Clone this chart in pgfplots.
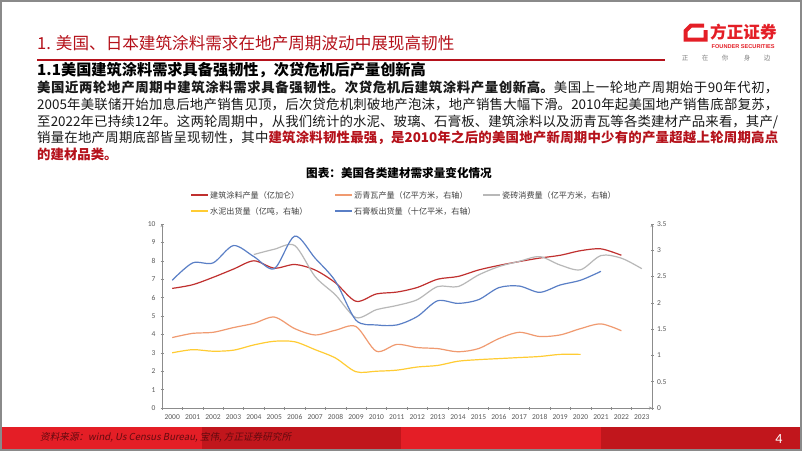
\documentclass[border=0pt]{standalone}
\usepackage{fontspec}
\usepackage{pgfplots}
\pgfplotsset{compat=1.18}
\setmainfont{Noto Sans CJK SC}
\newfontfamily\carlito{Carlito}
\newfontfamily\lib{Liberation Sans}
\newfontfamily\footfont{Noto Sans CJK SC}[FakeSlant=0.2]
\XeTeXlinebreaklocale "zh"
\XeTeXlinebreakskip=0pt plus 1pt

\definecolor{hred}{HTML}{B5121B}
\definecolor{fbright}{HTML}{E41E26}
\definecolor{fdark}{HTML}{C1161C}
\definecolor{framegray}{HTML}{8A8A8A}
\definecolor{axisgray}{HTML}{8C8C8C}
\definecolor{labgray}{HTML}{595959}
\definecolor{sred}{HTML}{C0302F}
\definecolor{sorange}{HTML}{F09A70}
\definecolor{sgray}{HTML}{B8B8B8}
\definecolor{syellow}{HTML}{FFCC33}
\definecolor{sblue}{HTML}{5A7FC6}

\pgfplotsset{
  slide axis/.style={
    at={(162pt,-408pt)}, anchor=south west,
    width=490pt, height=184pt, scale only axis,
    xmin=-0.5, xmax=23.5, ymin=0,
    tick align=outside, major tick length=3pt, minor tick length=3pt,
    axis line style={draw=axisgray, -},
    tick style={draw=axisgray, line width=0.5pt},
    ticklabel style={font=\carlito\fontsize{7.5}{8}\selectfont, text=labgray},
    /pgf/number format/assume math mode=true,
    every axis plot/.append style={line width=1.2pt, smooth, tension=0.5, no markers},
  }
}

\begin{document}
\begin{tikzpicture}
\path[use as bounding box, fill=white] (0,0) rectangle (802pt,-451pt);

% footer bands
\fill[fbright] (0,-427pt) rectangle (202pt,-450pt);
\fill[fdark] (202pt,-427pt) rectangle (401pt,-450pt);
\fill[fbright] (401pt,-427pt) rectangle (601pt,-450pt);
\fill[fdark] (601pt,-427pt) rectangle (802pt,-450pt);
\node[anchor=west, inner sep=0, text=hred!55!black] at (40pt,-437.5pt)
  {\footfont\fontsize{9.6}{10}\selectfont 资料来源：wind, Us Census Bureau, 宝伟, 方正证券研究所};
\node[inner sep=0, text=white] at (779pt,-439pt) {\carlito\fontsize{14}{15}\selectfont 4};

% frame
\draw[framegray, line width=2pt] (1pt,-1pt) rectangle (801pt,-450pt);

% title
\node[anchor=base west, inner sep=0, text=hred] at (37pt,-49.3pt)
  {\fontsize{16.6}{18}\selectfont 1. 美国、日本建筑涂料需求在地产周期波动中展现高韧性};
\draw[hred, line width=1.4pt] (37pt,-60pt) -- (665pt,-60pt);

% logo
\draw[fbright, line width=4pt, line join=miter] (704pt,-25.5pt) -- (691pt,-25.5pt) -- (685.5pt,-31pt)
  -- (685.5pt,-39.5pt) -- (705.5pt,-39.5pt) -- (705.5pt,-30pt);
\node[anchor=west, inner sep=0, text=fbright] at (710pt,-32pt) {\bfseries\fontsize{16.6}{18}\selectfont 方正证券};
\node[anchor=west, inner sep=0, text=fbright] at (711.5pt,-46.5pt) {\lib\bfseries\fontsize{5.6}{6}\selectfont FOUNDER SECURITIES};
\foreach \c/\xx in {正/685,在/705,你/725,身/747,边/767}
  \node[inner sep=0, text=gray] at (\xx pt,-58pt) {\fontsize{6.5}{7}\selectfont \c};

% heading and paragraph
\node[anchor=base west, inner sep=0] at (37pt,-75.8pt)
  {\bfseries\fontsize{15.2}{17}\selectfont 1.1美国建筑涂料需求具备强韧性，次贷危机后产量创新高};
\node[anchor=base west, inner sep=0, text=black!90] at (37pt,-92.5pt) {\parbox[t]{741pt}{\fontsize{13.4}{16.8}\selectfont
{\bfseries 美国近两轮地产周期中建筑涂料需求具备强韧性。次贷危机后建筑涂料产量创新高。}美国上一轮地产周期始于90年代初，\linebreak
2005年美联储开始加息后地产销售见顶，后次贷危机刺破地产泡沫，地产销售大幅下滑。2010年起美国地产销售底部复苏，\linebreak
至2022年已持续12年。这两轮周期中，从我们统计的水泥、玻璃、石膏板、建筑涂料以及沥青瓦等各类建材产品来看，其产/\linebreak
销量在地产周期底部皆呈现韧性，其中{\color{hred}\bfseries 建筑涂料韧性最强，是2010年之后的美国地产新周期中少有的产量超越上轮周期高点}\linebreak
{\color{hred}\bfseries 的建材品类。}}};

% chart title
\node[inner sep=0] at (399pt,-173pt) {\bfseries\fontsize{11.6}{12}\selectfont 图表：美国各类建材需求量变化情况};

% legend
\begin{scope}[every node/.style={anchor=west, inner sep=0, text=black!75, font=\fontsize{8.1}{9}\selectfont}]
\draw[sred, line width=1.5pt] (191pt,-195pt) -- (208pt,-195pt);
\node at (210pt,-195pt) {建筑涂料产量（亿加仑）};
\draw[sorange, line width=1.5pt] (335pt,-195pt) -- (352pt,-195pt);
\node at (354pt,-195pt) {沥青瓦产量（亿平方米，右轴）};
\draw[sgray, line width=1.5pt] (483pt,-195pt) -- (500pt,-195pt);
\node at (502pt,-195pt) {瓷砖消费量（亿平方米，右轴）};
\draw[syellow, line width=1.5pt] (191pt,-211pt) -- (208pt,-211pt);
\node at (210pt,-211pt) {水泥出货量（亿吨，右轴）};
\draw[sblue, line width=1.5pt] (335pt,-211pt) -- (352pt,-211pt);
\node at (354pt,-211pt) {石膏板出货量（十亿平米，右轴）};
\end{scope}

% left axis
\begin{axis}[slide axis,
  ymax=10, ytick={0,1,...,10},
  axis x line=bottom, axis y line=left,
  xtick={0,1,...,23},
  xticklabels={2000,2001,2002,2003,2004,2005,2006,2007,2008,2009,2010,2011,2012,2013,2014,2015,2016,2017,2018,2019,2020,2021,2022,2023},
  major x tick style={draw=none},
  minor xtick={-0.5,0.5,...,23.5},
  xticklabel style={yshift=-1.5pt},
  yticklabel style={xshift=-1.5pt},
]
\addplot[sred] coordinates {
 (0,6.5) (1,6.7) (2,7.1) (3,7.55) (4,8.0) (5,7.6) (6,7.8) (7,7.5) (8,6.8) (9,5.8)
 (10,6.2) (11,6.3) (12,6.55) (13,7.0) (14,7.15) (15,7.5) (16,7.75) (17,7.96) (18,8.15)
 (19,8.3) (20,8.55) (21,8.65) (22,8.3)
};
\end{axis}

% right axis
\begin{axis}[slide axis,
  ymax=3.5, ytick={0,0.5,...,3.5},
  axis x line=none, axis y line=right,
  xtick=\empty,
]
\addplot[sorange] coordinates {
 (0,1.34) (1,1.42) (2,1.44) (3,1.53) (4,1.61) (5,1.73) (6,1.51) (7,1.39) (8,1.48) (9,1.55)
 (10,1.08) (11,1.21) (12,1.15) (13,1.13) (14,1.07) (15,1.13) (16,1.32) (17,1.44) (18,1.36)
 (19,1.39) (20,1.51) (21,1.6) (22,1.47)
};
\addplot[sgray] coordinates {
 (4,2.92) (5,3.02) (6,3.09) (7,2.5) (8,2.15) (9,1.72) (10,1.87) (11,1.95) (12,2.06)
 (13,2.31) (14,2.31) (15,2.53) (16,2.69) (17,2.79) (18,2.88) (19,2.72) (20,2.63) (21,2.9)
 (22,2.85) (23,2.65)
};
\addplot[syellow] coordinates {
 (0,1.05) (1,1.11) (2,1.08) (3,1.1) (4,1.2) (5,1.27) (6,1.26) (7,1.11) (8,0.95) (9,0.69)
 (10,0.7) (11,0.72) (12,0.78) (13,0.81) (14,0.89) (15,0.92) (16,0.94) (17,0.96) (18,0.98)
 (19,1.02) (20,1.02)
};
\addplot[sblue] coordinates {
 (0,2.43) (1,2.76) (2,2.76) (3,3.09) (4,2.88) (5,2.65) (6,3.27) (7,2.85) (8,2.41) (9,1.67)
 (10,1.58) (11,1.58) (12,1.74) (13,2.04) (14,1.99) (15,2.06) (16,2.29) (17,2.32) (18,2.2)
 (19,2.34) (20,2.43) (21,2.6)
};
\end{axis}
\end{tikzpicture}
\end{document}
